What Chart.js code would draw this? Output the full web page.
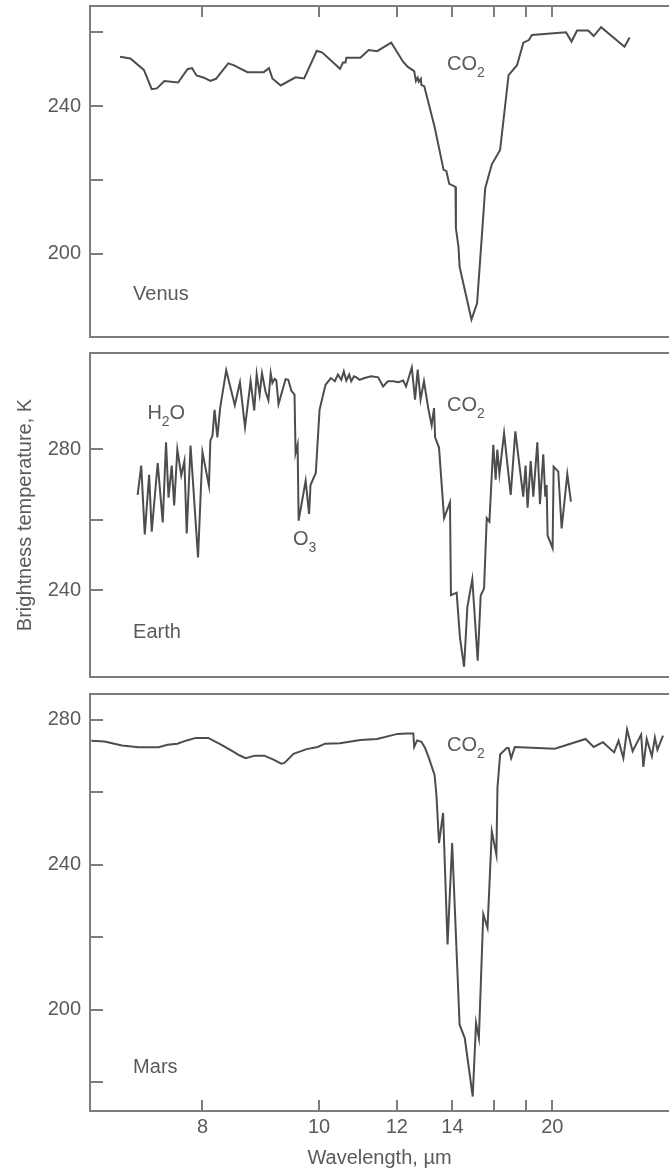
<!DOCTYPE html>
<html>
<head>
<meta charset="utf-8">
<script src="https://cdn.jsdelivr.net/npm/chart.js@4.4.0/dist/chart.umd.min.js"></script>
<style>
  body { margin: 0; background: #fff; }
  #wrap { position: relative; width: 669px; height: 1170px; overflow: hidden; }
  canvas { position: absolute; left: 0; }
</style>
</head>
<body>
<div id="wrap">
  <canvas id="venus" width="669" height="345" style="top:0"></canvas>
  <canvas id="earth" width="669" height="340" style="top:345px"></canvas>
  <canvas id="mars" width="669" height="485" style="top:685px"></canvas>
</div>
<script>
// wavelength (µm) and brightness temperature (K)
const venusWl = [7.01, 7.12, 7.27, 7.36, 7.42, 7.51, 7.68, 7.80, 7.86, 7.92, 8.02, 8.11, 8.19, 8.37, 8.45, 8.67, 8.94, 9.03, 9.09, 9.24, 9.52, 9.69, 9.80, 9.95, 10.07, 10.47, 10.54, 10.60, 10.62, 10.97, 11.19, 11.42, 11.83, 12.19, 12.34, 12.56, 12.62, 12.68, 12.72, 12.79, 12.81, 12.91, 13.29, 13.64, 13.75, 13.87, 14.13, 14.15, 14.26, 14.31, 14.85, 15.12, 15.53, 15.88, 16.34, 16.84, 17.37, 17.79, 18.17, 18.39, 21.24, 21.79, 22.37, 23.63, 24.31, 25.28, 28.95, 29.91];
const venusT = [253.4, 252.9, 249.8, 244.6, 244.8, 246.8, 246.4, 250.0, 250.3, 248.3, 247.7, 246.8, 247.4, 251.6, 251.1, 249.2, 249.2, 250.3, 247.5, 245.6, 247.8, 247.5, 250.7, 255.0, 254.5, 250.1, 251.8, 251.8, 253.1, 253.1, 255.2, 254.9, 257.2, 252.1, 250.7, 249.5, 246.8, 247.7, 246.6, 247.4, 245.7, 245.4, 234.4, 222.7, 222.4, 218.9, 218.1, 206.8, 201.9, 196.4, 182.1, 186.5, 217.7, 224.2, 228.1, 248.4, 251.1, 257.2, 257.9, 259.3, 260.0, 257.5, 260.5, 260.5, 259.0, 261.4, 256.1, 258.6];

const earthWl = [7.20, 7.24, 7.28, 7.33, 7.36, 7.43, 7.49, 7.53, 7.56, 7.60, 7.63, 7.67, 7.72, 7.76, 7.79, 7.84, 7.94, 8.00, 8.09, 8.11, 8.14, 8.17, 8.21, 8.25, 8.34, 8.47, 8.55, 8.63, 8.72, 8.78, 8.82, 8.87, 8.91, 8.97, 9.02, 9.06, 9.09, 9.13, 9.16, 9.20, 9.33, 9.38, 9.44, 9.50, 9.52, 9.56, 9.58, 9.72, 9.79, 9.82, 9.93, 10.01, 10.14, 10.26, 10.35, 10.42, 10.50, 10.56, 10.62, 10.69, 10.74, 10.81, 10.87, 10.95, 11.08, 11.26, 11.45, 11.59, 11.73,
  11.89, 12.05, 12.20, 12.29, 12.48, 12.59, 12.68, 12.78, 12.90, 13.06, 13.18, 13.27, 13.31, 13.46, 13.66, 13.90, 13.94, 14.18, 14.33, 14.51, 14.66, 14.89, 15.15, 15.30, 15.47, 15.61, 15.75, 15.96, 16.09, 16.18, 16.30, 16.57, 16.97, 17.26, 17.78, 17.94, 18.08, 18.30, 18.49, 18.79, 18.99, 19.25, 19.41, 19.52, 19.60, 20.02, 20.11, 20.52, 20.83, 21.37, 21.73];
const earthT = [267.0, 275.3, 255.8, 272.7, 256.6, 276.0, 259.2, 281.9, 266.2, 275.3, 264.0, 279.8, 272.5, 276.6, 256.1, 281.0, 249.3, 279.1, 269.6, 282.3, 283.8, 291.1, 283.3, 291.6, 302.3, 292.4, 298.9, 286.2, 299.2, 290.9, 301.2, 295.4, 301.5, 296.3, 293.8, 301.5, 298.7, 299.9, 299.5, 292.7, 299.8, 299.6, 296.5, 295.4, 278.8, 281.2, 259.7, 271.0, 261.6, 269.8, 273.2, 291.1, 298.2, 300.1, 299.2, 301.1, 299.6, 302.0, 299.4, 301.1, 299.2, 300.6, 300.3, 299.6, 300.1, 300.6, 300.3, 297.7, 299.2,
  299.2, 298.9, 299.4, 297.7, 303.1, 294.0, 302.5, 294.0, 299.2, 291.3, 286.7, 291.6, 283.3, 280.4, 260.4, 264.9, 238.6, 239.3, 226.3, 218.3, 235.3, 243.1, 220.0, 238.5, 240.5, 260.4, 259.4, 281.2, 271.3, 279.8, 272.9, 284.5, 267.0, 285.0, 266.5, 275.3, 263.4, 276.6, 266.5, 281.9, 264.4, 278.5, 266.5, 269.8, 255.5, 251.9, 275.0, 273.6, 257.5, 272.9, 265.1];

const marsWl = [6.72, 6.85, 7.03, 7.21, 7.44, 7.55, 7.67, 7.79, 7.91, 8.08, 8.27, 8.44, 8.54, 8.64, 8.79, 8.95, 9.11, 9.25, 9.31, 9.48, 9.74, 9.97, 10.13, 10.47, 10.97, 11.42, 12.02, 12.31, 12.53, 12.56, 12.66, 12.81, 12.94, 13.08, 13.29, 13.36, 13.46, 13.62, 13.80, 13.99, 14.31, 14.54, 14.91, 15.07, 15.21, 15.43, 15.65, 15.88, 16.13, 16.19, 16.34, 16.73, 16.84, 17.00, 17.23, 20.21, 23.32, 24.31, 25.54, 27.20, 27.93, 28.75, 29.42, 30.49, 32.29, 32.79, 33.58, 34.88, 35.68, 36.39, 38.04];
const marsT = [274.2, 274.0, 272.9, 272.4, 272.4, 273.1, 273.4, 274.3, 275.0, 275.0, 273.1, 271.3, 270.2, 269.4, 270.1, 270.1, 269.0, 267.9, 268.1, 270.6, 271.9, 272.5, 273.4, 273.5, 274.4, 274.7, 276.1, 276.2, 276.2, 272.5, 274.3, 273.9, 272.2, 269.4, 264.8, 259.3, 246.0, 254.3, 218.0, 246.0, 195.9, 192.2, 176.1, 196.4, 192.2, 226.4, 222.6, 249.2, 242.8, 261.2, 270.4, 272.2, 272.2, 269.4, 272.5, 272.0, 274.7, 272.5, 273.8, 271.0, 274.2, 269.4, 277.3, 271.3, 275.9, 267.0, 274.7, 269.9, 275.1, 271.7, 275.6];

// axis ticks
const xTickWl = [8, 10, 12, 14, 16, 18, 20];
const xLabelWl = [8, 10, 12, 14, 20];
const venusTicks = [200, 220, 240, 260];
const venusLabels = [200, 240];
const earthTicks = [240, 260, 280];
const earthLabels = [240, 280];
const marsTicks = [180, 200, 220, 240, 260, 280];
const marsLabels = [200, 240, 280];

// text inside the panels: [wavelength, temperature] of the text baseline start
const venusNotes = [
  { at: [7.15, 187.4], parts: [["Venus", 0]] },
  { at: [13.78, 249.8], parts: [["CO", 0], ["2", 1]] }
];
const earthNotes = [
  { at: [7.15, 226.4], parts: [["Earth", 0]] },
  { at: [7.31, 288.5], parts: [["H", 0], ["2", 1], ["O", 0]] },
  { at: [9.47, 252.7], parts: [["O", 0], ["3", 1]] },
  { at: [13.78, 290.7], parts: [["CO", 0], ["2", 1]] }
];
const marsNotes = [
  { at: [7.15, 182.6], parts: [["Mars", 0]] },
  { at: [13.78, 271.4], parts: [["CO", 0], ["2", 1]] }
];

const frame = "#7d7d7d";
const ink = "#4d4d4d";
const textCol = "#5a5a5a";
const family = "'Liberation Sans', Arial, sans-serif";
const font = { family: family, size: 20 };

// x axis is linear in wavenumber (cm^-1), labelled in wavelength
const nuMin = 250;
const nuMax = 1491;
function wn(wl) { return 10000 / wl; }

function notesPlugin(notes) {
  return {
    id: "notes",
    afterDatasetsDraw(chart) {
      const { ctx, scales } = chart;
      ctx.save();
      ctx.fillStyle = textCol;
      ctx.textBaseline = "alphabetic";
      ctx.textAlign = "left";
      notes.forEach(n => {
        let px = scales.x.getPixelForValue(wn(n.at[0]));
        const py = scales.y.getPixelForValue(n.at[1]);
        n.parts.forEach(([s, sub]) => {
          ctx.font = (sub ? 14 : 20) + "px " + family;
          ctx.fillText(s, px, sub ? py + 7 : py);
          px += ctx.measureText(s).width;
        });
      });
      ctx.restore();
    }
  };
}

// no extra room around the plot area: sizes below are fixed
function noPad(s) {
  s.paddingTop = 0;
  s.paddingBottom = 0;
  s.paddingLeft = 0;
  s.paddingRight = 0;
}

function panel(id, p) {
  const pts = p.wl.map((w, i) => ({ x: wn(w), y: p.t[i] }));
  new Chart(document.getElementById(id), {
    type: "line",
    data: {
      datasets: [{
        data: pts,
        borderColor: ink,
        borderWidth: 2,
        pointRadius: 0,
        tension: 0,
        fill: false
      }]
    },
    options: {
      responsive: false,
      animation: false,
      events: [],
      layout: { padding: 0, autoPadding: false },
      plugins: { legend: { display: false }, tooltip: { enabled: false } },
      scales: {
        x: {
          type: "linear",
          position: "bottom",
          reverse: true,
          min: nuMin,
          max: nuMax,
          afterBuildTicks: s => { s.ticks = p.bottomTicks ? xTickWl.map(w => ({ value: wn(w) })) : []; },
          afterFit: s => { s.height = p.bottomH; noPad(s); },
          grid: { drawOnChartArea: false, drawTicks: !!p.bottomTicks, tickLength: -11, color: frame, lineWidth: 2 },
          border: { display: true, color: frame, width: 2 },
          ticks: {
            display: !!p.bottomTicks,
            autoSkip: false,
            maxRotation: 0,
            padding: 15,
            color: textCol,
            font: font,
            callback: v => {
              const w = Math.round(10000 / v);
              return xLabelWl.includes(w) ? String(w) : "";
            }
          },
          title: {
            display: !!p.bottomTicks,
            text: "Wavelength, µm",
            color: textCol,
            font: font,
            padding: { top: 0, bottom: 0 }
          }
        },
        xTop: {
          type: "linear",
          position: "top",
          reverse: true,
          min: nuMin,
          max: nuMax,
          afterBuildTicks: s => { s.ticks = p.topTicks ? xTickWl.map(w => ({ value: wn(w) })) : []; },
          afterFit: s => { s.height = p.topH; noPad(s); },
          grid: { drawOnChartArea: false, drawTicks: !!p.topTicks, tickLength: -11, color: frame, lineWidth: 2 },
          border: { display: true, color: frame, width: 2 },
          ticks: { display: false }
        },
        y: {
          type: "linear",
          position: "left",
          min: p.yMin,
          max: p.yMax,
          afterBuildTicks: s => { s.ticks = p.yTicks.map(v => ({ value: v })); },
          afterFit: s => { s.width = 90; noPad(s); },
          grid: { drawOnChartArea: false, tickLength: -13, color: frame, lineWidth: 2 },
          border: { display: true, color: frame, width: 2 },
          ticks: {
            padding: 22,
            color: textCol,
            font: font,
            callback: v => (p.yLabels.includes(v) ? String(v) : "")
          },
          title: {
            display: !!p.yTitle,
            text: "Brightness temperature, K",
            color: textCol,
            font: font,
            padding: { top: 13, bottom: 0 }
          }
        }
      }
    },
    plugins: [notesPlugin(p.notes)]
  });
}

panel("venus", {
  wl: venusWl, t: venusT, yMin: 177.35, yMax: 267.15,
  yTicks: venusTicks, yLabels: venusLabels, notes: venusNotes,
  topTicks: true, bottomTicks: false, topH: 6, bottomH: 8
});
panel("earth", {
  wl: earthWl, t: earthT, yMin: 215.4, yMax: 307.2,
  yTicks: earthTicks, yLabels: earthLabels, notes: earthNotes,
  topTicks: false, bottomTicks: false, topH: 8, bottomH: 8, yTitle: true
});
panel("mars", {
  wl: marsWl, t: marsT, yMin: 172.1, yMax: 287.1,
  yTicks: marsTicks, yLabels: marsLabels, notes: marsNotes,
  topTicks: false, bottomTicks: true, topH: 9, bottomH: 59
});
</script>
</body>
</html>
